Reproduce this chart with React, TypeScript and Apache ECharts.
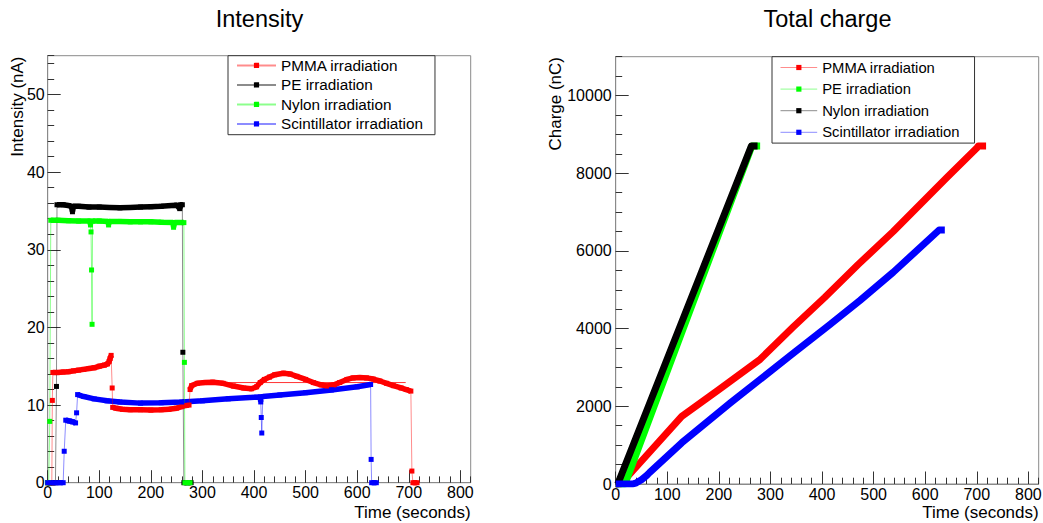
import React, { useEffect, useRef } from 'react';
import * as echarts from 'echarts';

const FONT = '"Liberation Sans", Arial, Helvetica, sans-serif';

// ---------- Data: Intensity (nA) vs time (s) ----------
const pmmaIntensity: [number, number][] = [
  [0, 0], [4, 0], [8, 0], [9, 10.6], [10, 14.2], [20, 14.2], [30, 14.25], [40, 14.3], [50, 14.4],
  [60, 14.5], [70, 14.6], [80, 14.7], [90, 14.8], [100, 15.0], [110, 15.15], [116, 15.3], [119, 15.6],
  [121, 16.0], [123, 16.4], [125, 12.2], [126, 9.7], [132, 9.6], [145, 9.45], [160, 9.4], [180, 9.4],
  [200, 9.35], [220, 9.4], [235, 9.45], [250, 9.6], [260, 9.8], [268, 9.95], [274, 10.0], [276, 12.0],
  [279, 12.5], [290, 12.8], [305, 12.9], [320, 12.95], [340, 12.8], [360, 12.45], [380, 12.2],
  [395, 12.1], [405, 12.35], [412, 12.9], [420, 13.3], [430, 13.6], [440, 13.9], [457, 14.1],
  [470, 14.0], [483, 13.7], [500, 13.3], [515, 12.9], [530, 12.6], [541, 12.45], [555, 12.6],
  [566, 12.9], [580, 13.3], [592, 13.5], [605, 13.55], [618, 13.5], [631, 13.35], [644, 13.1],
  [657, 12.8], [670, 12.5], [685, 12.2], [695, 12.0], [704, 11.8], [706, 1.5], [708, 0], [712, 0], [716, 0],
];
const pmmaFlatLine: [number, number][] = [[282, 12.9], [694, 12.9]];

const peIntensity: [number, number][] = [
  [0, 0], [5, 0], [10, 0], [15, 0], [17, 12.4], [18, 35.8], [30, 35.8], [40, 35.7], [46, 35.6],
  [48, 34.9], [50, 35.6], [60, 35.6], [80, 35.5], [100, 35.5], [120, 35.45], [140, 35.4], [160, 35.45],
  [180, 35.5], [200, 35.55], [220, 35.6], [240, 35.7], [250, 35.75], [256, 35.3], [258, 35.8],
  [261, 35.8], [262, 16.8], [264, 0], [270, 0], [278, 0],
];

const nylonIntensity: [number, number][] = [
  [0, 0], [2, 0], [4, 7.9], [6, 33.8], [20, 33.8], [40, 33.75], [60, 33.7], [82, 33.7], [83, 33.2],
  [84, 32.3], [85, 27.4], [86, 20.4], [87, 33.7], [100, 33.7], [117, 33.65], [118, 33.2], [119, 33.65],
  [140, 33.65], [160, 33.6], [180, 33.6], [200, 33.6], [220, 33.55], [243, 33.5], [244, 32.9],
  [246, 33.5], [264, 33.5], [265, 15.5], [266, 0], [271, 0], [276, 0],
];

const scintIntensity: [number, number][] = [
  [0, 0], [6, 0], [12, 0], [18, 0], [24, 0], [30, 0], [32, 4.05], [35, 8.05], [42, 7.95], [48, 7.85],
  [54, 7.7], [56, 9.0], [58, 11.35], [70, 11.1], [90, 10.8], [115, 10.55], [140, 10.4], [180, 10.25],
  [220, 10.3], [260, 10.4], [300, 10.55], [350, 10.8], [400, 11.0], [412, 11.05], [413, 10.4],
  [414, 8.4], [415, 6.4], [417, 11.1], [450, 11.3], [500, 11.6], [550, 11.95], [600, 12.35],
  [626, 12.65], [627, 3.0], [628, 0], [633, 0], [637, 0],
];

// ---------- Data: Total charge (nC) vs time (s) ----------
const pmmaCharge: [number, number][] = [
  [0, 0], [10, 0], [128, 1740], [200, 2430], [280, 3210], [344, 4040], [405, 4800], [470, 5650],
  [538, 6500], [603, 7370], [642, 7890], [700, 8650], [703, 8700], [718, 8700],
];
const peCharge: [number, number][] = [[0, 0], [18, 0], [128, 3900], [264, 8700], [280, 8700]];
const nylonCharge: [number, number][] = [[0, 0], [4, 0], [99, 3190], [263, 8700], [275, 8700]];
const scintCharge: [number, number][] = [
  [0, 0], [33, 0], [40, 30], [50, 110], [60, 220], [66, 300], [128, 1060], [222, 2085], [338, 3300],
  [416, 4110], [474, 4730], [538, 5450], [627, 6540], [638, 6540],
];

// ---------- Labels ----------
const intensityNames = ['PMMA irradiation', 'PE irradiation', 'Nylon irradiation', 'Scintillator irradiation'];
const intensityColors = ['#ff0000', '#000000', '#00ff00', '#0000ff'];
const chargeNames = ['PMMA irradiation', 'PE irradiation', 'Nylon irradiation', 'Scintillator irradiation'];
const chargeColors = ['#ff0000', '#00ff00', '#000000', '#0000ff'];
const titles = ['Intensity', 'Total charge'];
const yTitles = ['Intensity (nA)', 'Charge (nC)'];
const xTitle = 'Time (seconds)';

const intensitySets = [pmmaIntensity, peIntensity, nylonIntensity, scintIntensity];
const chargeSets = [pmmaCharge, peCharge, nylonCharge, scintCharge];

const FRAME = '#8a8a8a';
const TICK = '#333333';

function splitBands(pts: [number, number][], thr: number) {
  const segs: [number, number][][] = [];
  let cur: [number, number][] = [pts[0]];
  for (let i = 1; i < pts.length; i++) {
    if (Math.abs(pts[i][1] - pts[i - 1][1]) > thr) {
      if (cur.length > 1) segs.push(cur);
      cur = [pts[i]];
    } else cur.push(pts[i]);
  }
  if (cur.length > 1) segs.push(cur);
  return segs;
}

const fmt = (v: number) => String(v);

function majorX(gridIndex: number) {
  return {
    type: 'value', gridIndex, min: 0, max: 820, interval: 100, position: 'bottom',
    axisLine: { show: true, lineStyle: { color: FRAME, width: 1 } },
    axisTick: { show: true, inside: true, length: 12.5, lineStyle: { color: TICK, width: 1 } },
    axisLabel: { show: true, margin: 2, fontFamily: FONT, fontSize: 16, color: '#000', showMaxLabel: false, formatter: fmt },
    splitLine: { show: false },
  };
}
function minorX(gridIndex: number) {
  return {
    type: 'value', gridIndex, min: 0, max: 820, interval: 20, position: 'bottom',
    axisLine: { show: false },
    axisTick: { show: true, inside: true, length: 6.3, lineStyle: { color: TICK, width: 1 } },
    axisLabel: { show: false }, splitLine: { show: false },
  };
}
function majorY(gridIndex: number, max: number, interval: number, margin: number) {
  return {
    type: 'value', gridIndex, min: 0, max, interval, position: 'left',
    axisLine: { show: true, lineStyle: { color: FRAME, width: 1 } },
    axisTick: { show: true, inside: true, length: 13, lineStyle: { color: TICK, width: 1 } },
    axisLabel: { show: true, margin, fontFamily: FONT, fontSize: 16, color: '#000', showMaxLabel: false, formatter: fmt },
    splitLine: { show: false },
  };
}
function minorY(gridIndex: number, max: number, interval: number) {
  return {
    type: 'value', gridIndex, min: 0, max, interval, position: 'left',
    axisLine: { show: false },
    axisTick: { show: true, inside: true, length: 6.5, lineStyle: { color: TICK, width: 1 } },
    axisLabel: { show: false }, splitLine: { show: false },
  };
}

function axisTitle(text: string, x: number, y: number, rotated: boolean) {
  return {
    type: 'text', x, y, rotation: rotated ? Math.PI / 2 : 0, silent: true,
    style: {
      text, fill: '#000', font: `17px ${FONT}`,
      align: 'right', verticalAlign: 'middle',
    },
  };
}

function buildOption() {
  const series: any[] = [];
  intensitySets.forEach((pts, i) => {
    const color = intensityColors[i];
    splitBands(pts, 0.8).forEach((seg) => {
      series.push({
        type: 'line', xAxisIndex: 0, yAxisIndex: 0, data: seg, symbol: 'none', silent: true,
        lineStyle: { width: 5.5, color, opacity: 1 }, z: 2,
      });
    });
    if (i === 0) {
      series.push({
        type: 'line', xAxisIndex: 0, yAxisIndex: 0, data: pmmaFlatLine, symbol: 'none', silent: true,
        lineStyle: { width: 1, color, opacity: 0.8 }, z: 2,
      });
    }
    series.push({
      type: 'line', name: intensityNames[i], xAxisIndex: 0, yAxisIndex: 0, data: pts,
      symbol: 'rect', symbolSize: 5, showSymbol: true, itemStyle: { color },
      lineStyle: { width: 1, color, opacity: 0.45 }, z: 3,
    });
  });
  chargeSets.forEach((pts, i) => {
    const color = chargeColors[i];
    series.push({
      type: 'line', name: 'charge:' + chargeNames[i], xAxisIndex: 2, yAxisIndex: 2, data: pts,
      symbol: 'rect', symbolSize: 5, showSymbol: false, itemStyle: { color },
      lineStyle: { width: 7, color, cap: 'butt', join: 'round' }, z: 3,
    });
  });

  const titleStyle = { fontFamily: FONT, fontSize: 23.5, fontWeight: 'normal', color: '#000' };
  return {
    animation: false,
    backgroundColor: '#ffffff',
    title: [
      { text: titles[0], left: 259.5, top: 6.5, padding: 0, textAlign: 'center', textStyle: titleStyle },
      { text: titles[1], left: 827.5, top: 6.5, padding: 0, textAlign: 'center', textStyle: titleStyle },
    ],
    legend: [
      {
        orient: 'vertical', left: 228, top: 55.7, data: intensityNames, selectedMode: false,
        itemWidth: 39, itemHeight: 6.5, itemGap: 0, padding: [0, 12, 1, 8],
        borderColor: '#333', borderWidth: 1, backgroundColor: '#fff',
        textStyle: { fontFamily: FONT, fontSize: 15.3, color: '#000', lineHeight: 19.5 },
      },
      {
        orient: 'vertical', left: 772, top: 56.7, data: chargeNames.map((n) => 'charge:' + n), selectedMode: false,
        itemWidth: 36.7, itemHeight: 6.5, itemGap: 0, padding: [0, 15, 0, 8],
        borderColor: '#333', borderWidth: 1, backgroundColor: '#fff',
        formatter: (n: string) => n.replace('charge:', ''),
        lineStyle: { width: 1, opacity: 0.45 },
        textStyle: { fontFamily: FONT, fontSize: 14.8, color: '#000', lineHeight: 21.6 },
      },
    ],
    grid: [
      { left: 47.7, top: 55.7, width: 423, height: 427, show: true, borderColor: FRAME, borderWidth: 1, backgroundColor: 'transparent', outerBoundsMode: 'none', containLabel: false },
      { left: 615.7, top: 56.7, width: 423, height: 427.3, show: true, borderColor: FRAME, borderWidth: 1, backgroundColor: 'transparent', outerBoundsMode: 'none', containLabel: false },
    ],
    xAxis: [majorX(0), minorX(0), majorX(1), minorX(1)],
    yAxis: [
      majorY(0, 55, 10, 3), minorY(0, 55, 2),
      majorY(1, 11000, 2000, 4), minorY(1, 11000, 500),
    ],
    graphic: [
      axisTitle(xTitle, 470.7, 512, false),
      axisTitle(xTitle, 1038.7, 512, false),
      axisTitle(yTitles[0], 17.8, 56.5, true),
      axisTitle(yTitles[1], 555.7, 57, true),
    ],
    series,
  };
}

export default function App() {
  const ref = useRef<HTMLDivElement>(null);
  useEffect(() => {
    if (!ref.current) return;
    const chart = echarts.init(ref.current, undefined, { renderer: 'svg' });
    chart.setOption(buildOption() as any);
    return () => chart.dispose();
  }, []);
  return (
    <div
      ref={ref}
      style={{ position: 'fixed', left: 0, top: 0, width: 1043, height: 523, background: '#fff' }}
    />
  );
}
